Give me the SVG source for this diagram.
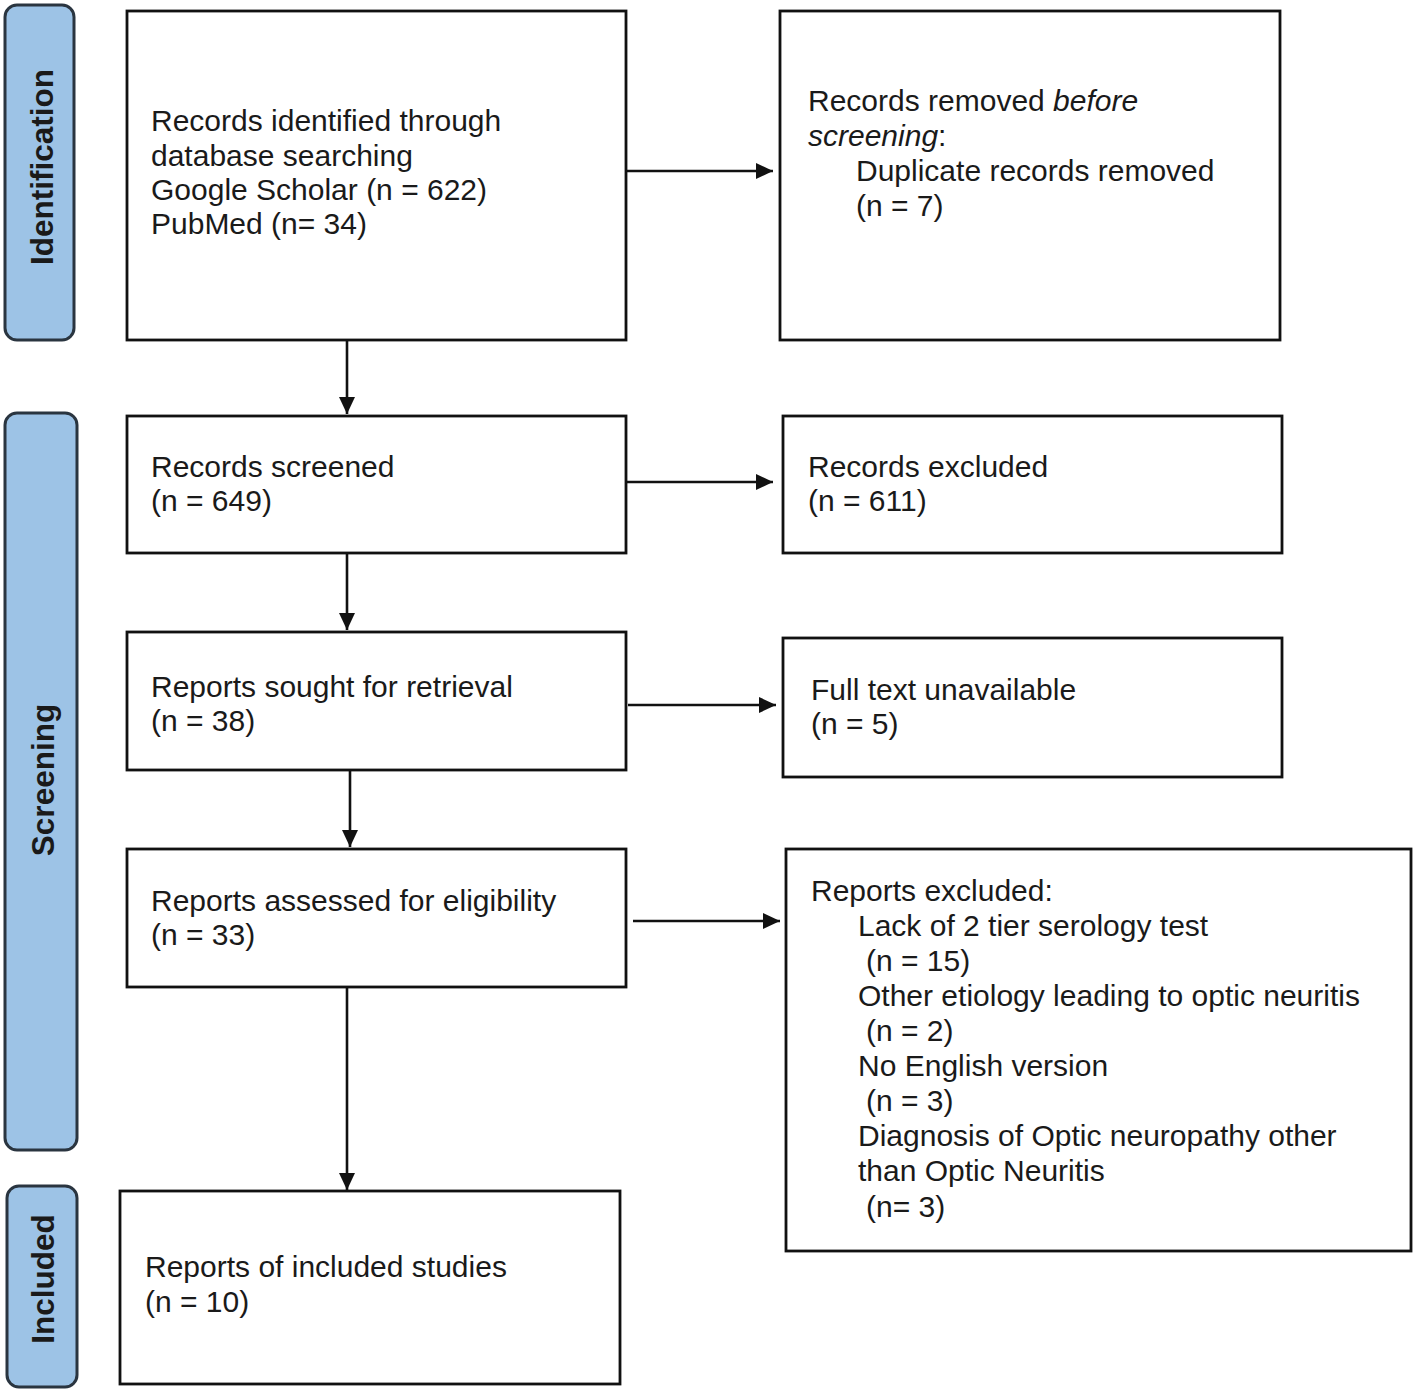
<svg xmlns="http://www.w3.org/2000/svg" width="1416" height="1392" viewBox="0 0 1416 1392">
<style>
.phase{fill:#9DC3E6;stroke:#2a3540;stroke-width:3}
.box{fill:#fff;stroke:#111;stroke-width:2.8}
.t{font-family:"Liberation Sans",Arial,sans-serif;font-size:30px;fill:#1a1a1a}
.pt{font-family:"Liberation Sans",Arial,sans-serif;font-size:31.5px;font-weight:bold;fill:#1a1a1a;text-anchor:middle}
.conn{fill:none;stroke:#111;stroke-width:2.6}
</style>
<defs>
<marker id="ah" markerUnits="userSpaceOnUse" markerWidth="18" markerHeight="16" refX="17" refY="8" orient="auto">
<path d="M0,0 L17,8 L0,16 Z" fill="#111"/>
</marker>
</defs>
<rect width="1416" height="1392" fill="#fff"/>

<g id="phase-identification">
<rect class="phase" x="5" y="5" width="69" height="335" rx="12"/>
<text class="pt" transform="translate(53,167) rotate(-90)">Identification</text>
</g>
<g id="phase-screening">
<rect class="phase" x="5" y="413" width="72" height="737" rx="12"/>
<text class="pt" transform="translate(54,780) rotate(-90)">Screening</text>
</g>
<g id="phase-included">
<rect class="phase" x="7" y="1186" width="70" height="201" rx="12"/>
<text class="pt" transform="translate(54,1279) rotate(-90)">Included</text>
</g>

<g id="connectors">
<path class="conn" d="M626,171 H773" marker-end="url(#ah)"/>
<path class="conn" d="M347,340 V414" marker-end="url(#ah)"/>
<path class="conn" d="M626,482 H773" marker-end="url(#ah)"/>
<path class="conn" d="M347,554 V630" marker-end="url(#ah)"/>
<path class="conn" d="M628,705 H776" marker-end="url(#ah)"/>
<path class="conn" d="M350,770 V847" marker-end="url(#ah)"/>
<path class="conn" d="M633,921 H780" marker-end="url(#ah)"/>
<path class="conn" d="M347,988 V1190" marker-end="url(#ah)"/>
</g>

<g id="node-identified">
<rect class="box" x="127" y="11" width="499" height="329"/>
<text class="t" x="151" y="131">Records identified through</text>
<text class="t" x="151" y="166">database searching</text>
<text class="t" x="151" y="200">Google Scholar (n = 622)</text>
<text class="t" x="151" y="234">PubMed (n= 34)</text>
</g>

<g id="node-removed">
<rect class="box" x="780" y="11" width="500" height="329"/>
<text class="t" x="808" y="111">Records removed <tspan font-style="italic">before</tspan></text>
<text class="t" x="808" y="146"><tspan font-style="italic">screening</tspan>:</text>
<text class="t" x="856" y="181">Duplicate records removed</text>
<text class="t" x="856" y="216">(n = 7)</text>
</g>

<g id="node-screened">
<rect class="box" x="127" y="416" width="499" height="137"/>
<text class="t" x="151" y="477">Records screened</text>
<text class="t" x="151" y="511">(n = 649)</text>
</g>

<g id="node-records-excluded">
<rect class="box" x="783" y="416" width="499" height="137"/>
<text class="t" x="808" y="477">Records excluded</text>
<text class="t" x="808" y="511">(n = 611)</text>
</g>

<g id="node-sought">
<rect class="box" x="127" y="632" width="499" height="138"/>
<text class="t" x="151" y="697">Reports sought for retrieval</text>
<text class="t" x="151" y="731">(n = 38)</text>
</g>

<g id="node-unavailable">
<rect class="box" x="783" y="638" width="499" height="139"/>
<text class="t" x="811" y="700">Full text unavailable</text>
<text class="t" x="811" y="734">(n = 5)</text>
</g>

<g id="node-assessed">
<rect class="box" x="127" y="849" width="499" height="138"/>
<text class="t" x="151" y="911">Reports assessed for eligibility</text>
<text class="t" x="151" y="945">(n = 33)</text>
</g>

<g id="node-reports-excluded">
<rect class="box" x="786" y="849" width="625" height="402"/>
<text class="t" x="811" y="901">Reports excluded:</text>
<text class="t" x="858" y="936">Lack of 2 tier serology test</text>
<text class="t" x="866" y="971">(n = 15)</text>
<text class="t" x="858" y="1006">Other etiology leading to optic neuritis</text>
<text class="t" x="866" y="1041">(n = 2)</text>
<text class="t" x="858" y="1076">No English version</text>
<text class="t" x="866" y="1111">(n = 3)</text>
<text class="t" x="858" y="1146">Diagnosis of Optic neuropathy other</text>
<text class="t" x="858" y="1181">than Optic Neuritis</text>
<text class="t" x="866" y="1217">(n= 3)</text>
</g>

<g id="node-included">
<rect class="box" x="120" y="1191" width="500" height="193"/>
<text class="t" x="145" y="1277">Reports of included studies</text>
<text class="t" x="145" y="1312">(n = 10)</text>
</g>
</svg>
